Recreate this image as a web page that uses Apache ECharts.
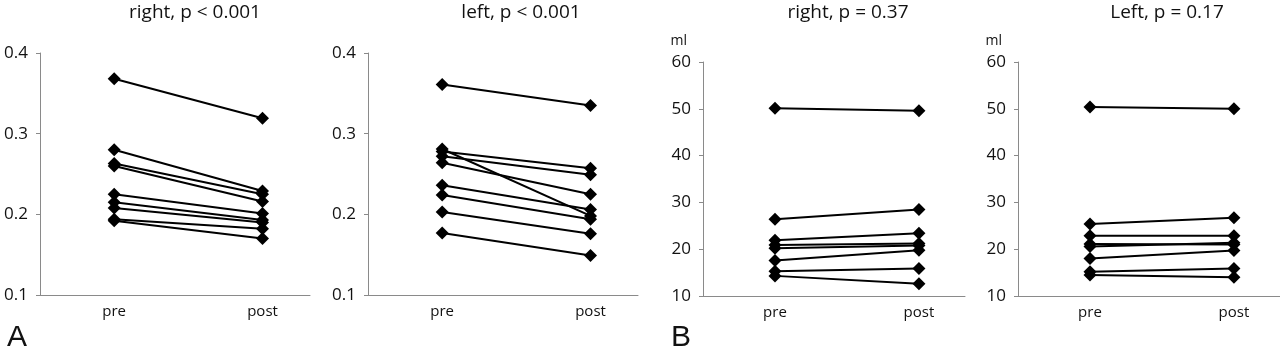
<!DOCTYPE html>
<html>
<head>
<meta charset="utf-8">
<script src="https://cdn.jsdelivr.net/npm/echarts@6/dist/echarts.min.js"></script>
<style>
  html, body { margin: 0; padding: 0; background: #fff; }
  #chart { width: 1280px; height: 355px; }
</style>
</head>
<body>
<div id="chart"></div>
<script>
const categories = ['pre', 'post']
const titles = ['right, p < 0.001', 'left, p < 0.001', 'right, p = 0.37', 'Left, p = 0.17']

// panel A (ratio)
const aRightPre = [0.368, 0.280, 0.263, 0.260, 0.225, 0.215, 0.208, 0.194, 0.192]
const aRightPost = [0.319, 0.229, 0.225, 0.216, 0.201, 0.193, 0.190, 0.182, 0.170]
const aLeftPre = [0.361, 0.278, 0.272, 0.281, 0.264, 0.236, 0.224, 0.203, 0.177]
const aLeftPost = [0.335, 0.257, 0.249, 0.198, 0.225, 0.206, 0.194, 0.176, 0.149]
const aTicks = [0.1, 0.4, 0.1]

// panel B (ml)
const bRightPre = [50.1, 26.4, 21.9, 20.9, 20.2, 17.6, 15.3, 14.3]
const bRightPost = [49.6, 28.5, 23.4, 21.2, 20.8, 19.8, 15.9, 12.6]
const bLeftPre = [50.4, 25.4, 22.9, 21.1, 20.6, 18.0, 15.2, 14.5]
const bLeftPost = [50.0, 26.7, 22.9, 21.0, 21.4, 19.7, 15.9, 14.0]
const bTicks = [10, 60, 10]

const panels = [
  { pre: aRightPre, post: aRightPost, ticks: aTicks, grid: { left: 40, width: 270, top: 53, height: 242 }, unit: '' },
  { pre: aLeftPre, post: aLeftPost, ticks: aTicks, grid: { left: 368, width: 270, top: 53, height: 242 }, unit: '' },
  { pre: bRightPre, post: bRightPost, ticks: bTicks, grid: { left: 703, width: 262, top: 62, height: 234 }, unit: 'ml' },
  { pre: bLeftPre, post: bLeftPost, ticks: bTicks, grid: { left: 1018, width: 262, top: 62, height: 234 }, unit: 'ml' },
]
const titleX = [190, 516, 843, 1162]

const font = '"Open Sans", "Liberation Sans", sans-serif'
const axisGray = '#8a8a8a'

const chart = echarts.init(document.getElementById('chart'))

const grid = []
const xAxis = []
const yAxis = []
const series = []

panels.forEach((p, k) => {
  grid.push(p.grid)
  xAxis.push({
    type: 'value',
    gridIndex: k,
    min: -0.5,
    max: 1.32,
    axisLine: { show: true, onZero: false, lineStyle: { color: axisGray, width: 1 } },
    axisTick: { show: false },
    splitLine: { show: false },
    axisLabel: {
      customValues: [0, 1],
      formatter: (v) => categories[Math.round(v)] || '',
      color: '#111',
      fontSize: 15,
      fontFamily: font,
      margin: 9,
    },
  })
  yAxis.push({
    type: 'value',
    gridIndex: k,
    min: p.ticks[0],
    max: p.ticks[1],
    interval: p.ticks[2],
    name: p.unit,
    nameLocation: 'end',
    nameGap: 14,
    nameTextStyle: { color: '#111', fontSize: 14, fontFamily: font, align: 'right', padding: [0, 16, 0, 0] },
    axisLine: { show: true, onZero: false, lineStyle: { color: axisGray, width: 1 } },
    axisTick: { show: true, length: 4, lineStyle: { color: axisGray } },
    splitLine: { show: false },
    axisLabel: {
      color: '#111',
      fontSize: 17,
      fontFamily: font,
      margin: 12,
      formatter: (v) => String(+v.toFixed(2)),
    },
  })
  p.pre.forEach((v, i) => {
    series.push({
      type: 'line',
      xAxisIndex: k,
      yAxisIndex: k,
      data: [[0, v], [1, p.post[i]]],
      symbol: 'diamond',
      symbolSize: 13,
      showSymbol: true,
      lineStyle: { color: '#000', width: 2 },
      itemStyle: { color: '#000' },
      silent: true,
      animation: false,
    })
  })
})

const option = {
  animation: false,
  title: titles.map((t, k) => ({
    text: t,
    left: titleX[k],
    top: -2,
    textAlign: 'center',
    textStyle: { fontSize: 19, fontWeight: 'normal', color: '#111', fontFamily: font },
  })).concat([
    { text: 'A', left: 2, top: 318, textStyle: { fontSize: 30, fontWeight: 'normal', color: '#111', fontFamily: '"Liberation Sans", sans-serif' } },
    { text: 'B', left: 666, top: 318, textStyle: { fontSize: 30, fontWeight: 'normal', color: '#111', fontFamily: '"Liberation Sans", sans-serif' } },
  ]),
  grid,
  xAxis,
  yAxis,
  series,
}

chart.setOption(option)
window.addEventListener('resize', function () {
  chart.resize()
})
</script>
</body>
</html>
